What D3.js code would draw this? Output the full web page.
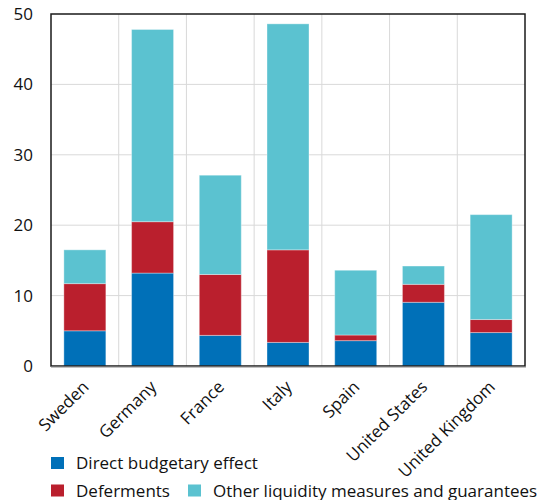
<!DOCTYPE html>
<html>
<head>
<meta charset="utf-8">
<script src="https://cdn.jsdelivr.net/npm/d3@7"></script>
<style>
  html, body { margin: 0; padding: 0; background: #fff; }
  text { font-family: "Open Sans", "Liberation Sans", sans-serif; fill: #111; }
</style>
</head>
<body>
<svg id="chart" width="551" height="500"></svg>
<script>
// Fiscal support measures by country, per cent of GDP
const countries = ["Sweden", "Germany", "France", "Italy", "Spain", "United States", "United Kingdom"];
const directBudgetary = [5.0, 13.2, 4.35, 3.35, 3.6, 9.05, 4.75];
const deferments = [6.7, 7.3, 8.65, 13.15, 0.8, 2.55, 1.85];
const otherLiquidity = [4.8, 27.3, 14.1, 32.1, 9.2, 2.6, 14.9];
const yTicks = [0, 10, 20, 30, 40, 50];

const seriesNames = ["Direct budgetary effect", "Deferments", "Other liquidity measures and guarantees"];
const seriesKeys = ["direct", "defer", "other"];
const colors = ["#0070b8", "#ba1f2d", "#5bc2d0"];

const rows = countries.map((c, i) => ({
  country: c,
  direct: directBudgetary[i],
  defer: deferments[i],
  other: otherLiquidity[i]
}));

const svg = d3.select("#chart");
const plot = { left: 51, right: 525, top: 14, bottom: 366 };

const x = d3.scaleBand()
  .domain(countries)
  .range([plot.left, plot.right])
  .paddingInner(0.38)
  .paddingOuter(0.19);

const y = d3.scaleLinear().domain([0, 50]).range([plot.bottom, plot.top]);

const step = x.step();

// gridlines
const grid = svg.append("g").attr("class", "grid");
grid.selectAll("line.h")
  .data(yTicks.filter(t => t > 0 && t < 50))
  .join("line")
  .attr("x1", plot.left).attr("x2", plot.right)
  .attr("y1", d => y(d)).attr("y2", d => y(d))
  .attr("stroke", "#d9d9d9").attr("stroke-width", 1);
grid.selectAll("line.v")
  .data(countries.slice(1))
  .join("line")
  .attr("x1", d => x(d) - x.bandwidth() * 0 - step * x.paddingInner() / 2)
  .attr("x2", d => x(d) - step * x.paddingInner() / 2)
  .attr("y1", plot.top).attr("y2", plot.bottom)
  .attr("stroke", "#d9d9d9").attr("stroke-width", 1);

// stacked bars
const stacked = d3.stack().keys(seriesKeys)(rows);
svg.append("g").selectAll("g")
  .data(stacked)
  .join("g")
  .attr("fill", (d, i) => colors[i])
  .selectAll("rect")
  .data(d => d)
  .join("rect")
  .attr("x", d => x(d.data.country))
  .attr("width", x.bandwidth())
  .attr("y", d => y(d[1]))
  .attr("height", d => y(d[0]) - y(d[1]))
  .attr("stroke", "#ffffff")
  .attr("stroke-opacity", 0.35)
  .attr("stroke-width", 1);

// frame
svg.append("rect")
  .attr("x", plot.left).attr("y", plot.top)
  .attr("width", plot.right - plot.left)
  .attr("height", plot.bottom - plot.top)
  .attr("fill", "none")
  .attr("stroke", "#1a1a1a")
  .attr("stroke-width", 1.5);
svg.append("line")
  .attr("x1", plot.left).attr("x2", plot.right + 1)
  .attr("y1", plot.bottom + 1).attr("y2", plot.bottom + 1)
  .attr("stroke", "#888").attr("stroke-width", 1);

// y axis labels
const yAxis = d3.axisLeft(y).tickValues(yTicks).tickSize(0).tickPadding(18);
svg.append("g")
  .attr("transform", `translate(${plot.left},0)`)
  .call(yAxis)
  .call(g => g.select(".domain").remove())
  .selectAll("text")
  .attr("font-family", "Open Sans, Liberation Sans, sans-serif")
  .attr("font-size", 17)
  .attr("fill", "#111");

// x axis labels, rotated
svg.append("g").selectAll("text")
  .data(countries)
  .join("text")
  .attr("transform", d => `translate(${x(d) + x.bandwidth() / 2 + 5},388) rotate(-45)`)
  .attr("text-anchor", "end")
  .attr("font-size", 17)
  .text(d => d);

// legend
const legend = [
  { i: 0, x: 51, y: 457 },
  { i: 1, x: 51, y: 484.5 },
  { i: 2, x: 188, y: 484.5 }
];
const lg = svg.append("g").selectAll("g").data(legend).join("g");
lg.append("rect")
  .attr("x", d => d.x).attr("y", d => d.y)
  .attr("width", 13).attr("height", 12)
  .attr("fill", d => colors[d.i]);
lg.append("text")
  .attr("x", d => d.x + 25)
  .attr("y", d => d.y + 12)
  .attr("font-size", 17)
  .text(d => seriesNames[d.i]);
</script>
</body>
</html>
